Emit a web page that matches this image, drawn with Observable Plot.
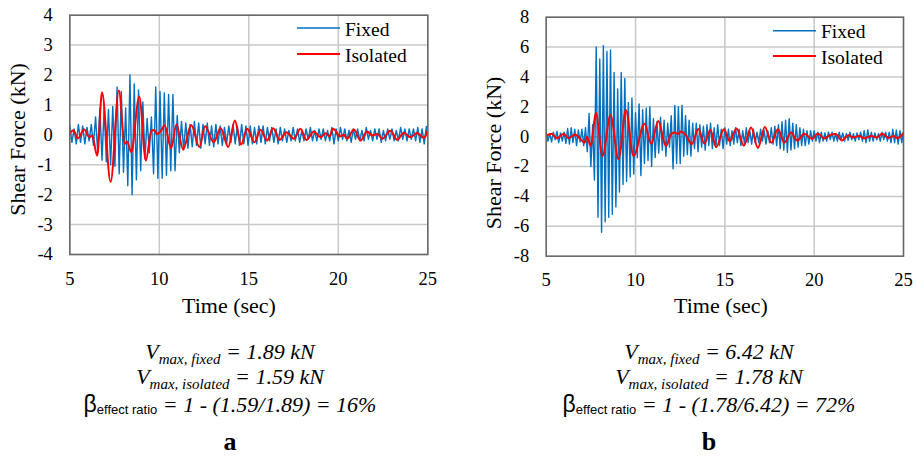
<!DOCTYPE html>
<html>
<head>
<meta charset="utf-8">
<script src="https://cdn.jsdelivr.net/npm/d3@7"></script>
<script src="https://cdn.jsdelivr.net/npm/@observablehq/plot@0.6"></script>
<style>
  html, body { margin: 0; padding: 0; background: #fff; }
  #page { position: relative; width: 917px; height: 456px; background: #fff; overflow: hidden; }
  .panel { position: absolute; top: 0; }
  #ov { position: absolute; left: 0; top: 0; pointer-events: none; }
</style>
</head>
<body>
<div id="page">
  <div id="pa" class="panel" style="left:0px"></div>
  <div id="pb" class="panel" style="left:458px"></div>
  <svg id="ov" width="917" height="456"></svg>
</div>
<script>
// ---------- data ----------
const xTicks = [5, 10, 15, 20, 25];
const yTicksA = [-4, -3, -2, -1, 0, 1, 2, 3, 4];
const yTicksB = [-8, -6, -4, -2, 0, 2, 4, 6, 8];
const seriesNames = ["Fixed", "Isolated"];
const panelLabels = ["a", "b"];
const startTime = 5;

// Panel a — Fixed base (sampled peaks/troughs every dtA seconds from 5 s)
const dtA = 0.12;
const fixedA = [
  0.3, -0.25, 0.2, -0.3, 0.35, -0.25, 0.3, -0.3, 0.25, -0.2,
  0.35, -0.35, 0.6, -0.6, 0.9, -0.85, 0.95, -0.9, 0.85, -1.0,
  0.95, -1.05, 1.6, -1.3, 1.45, -1.25, 0.9, -1.7, 2.0, -2.0,
  1.7, -1.5, 1.5, -1.2, 1.1, -0.8, 0.55, -0.6, 0.6, -1.3,
  1.6, -1.45, 1.45, -1.45, 1.4, -1.35, 1.35, -1.2, 1.35, -1.2,
  0.65, -0.6, 0.45, -0.5, 0.4, -0.45, 0.35, -0.4, 0.45, -0.35,
  0.4, -0.45, 0.35, -0.3, 0.4, -0.35, 0.3, -0.4, 0.35, -0.3,
  0.3, -0.35, 0.25, -0.3, 0.3, -0.25, 0.35, -0.3, 0.3, -0.35,
  0.35, -0.3, 0.3, -0.35, 0.3, -0.3, 0.25, -0.3, 0.3, -0.25,
  0.3, -0.3, 0.25, -0.2, 0.25, -0.25, 0.2, -0.3, 0.25, -0.2,
  0.2, -0.25, 0.15, -0.2, 0.25, -0.2, 0.2, -0.25, 0.15, -0.2,
  0.2, -0.15, 0.25, -0.2, 0.15, -0.2, 0.2, -0.15, 0.2, -0.2,
  0.15, -0.2, 0.25, -0.3, 0.2, -0.2, 0.25, -0.15, 0.2, -0.2,
  0.15, -0.25, 0.2, -0.15, 0.2, -0.2, 0.15, -0.2, 0.25, -0.15,
  0.15, -0.2, 0.2, -0.15, 0.2, -0.25, 0.15, -0.2, 0.2, -0.15,
  0.2, -0.2, 0.15, -0.2, 0.25, -0.15, 0.2, -0.2, 0.2, -0.15,
  0.2, -0.2, 0.25, -0.25, 0.2, -0.3, 0.28, -0.2
];
// Panel a — Isolated (turning points: time, value)
const isoTimeA = [
  5.0, 5.2, 5.45, 5.8, 6.1, 6.25, 6.53, 6.8, 7.28, 7.74,
  8.07, 8.2, 8.43, 8.88, 9.25, 9.55, 9.72, 9.87, 10.05, 10.3,
  10.66, 10.96, 11.33, 11.78, 12.24, 12.56, 13.04, 13.42, 13.85, 14.22,
  14.57, 14.91, 15.32, 15.65, 16.02, 16.36, 16.73, 17.1, 17.51, 17.89,
  18.22, 18.63, 19.0, 19.3, 19.5, 19.71, 20.1, 20.3, 20.49, 20.87,
  21.24, 21.61, 21.9, 22.2, 22.45, 22.91, 23.29, 23.66, 24.03, 24.4,
  24.78, 25.0
];
const isoA = [
  0.05, 0.15, -0.12, 0.18, -0.08, -0.02, -0.7, 1.42, -1.58, 1.48,
  -0.3, -0.22, -0.58, 1.28, -0.86, 0.12, 0.16, 0.03, 0.1, 0.31,
  -0.45, 0.35, -0.49, 0.33, -0.41, 0.29, -0.25, 0.23, -0.41, 0.48,
  -0.32, 0.2, -0.25, 0.17, -0.19, 0.22, -0.17, 0.09, -0.13, 0.2,
  -0.17, 0.11, -0.08, 0.05, -0.05, 0.2, -0.05, 0.0, -0.13, 0.18,
  -0.19, 0.11, -0.02, 0.03, -0.13, 0.14, -0.17, 0.07, -0.08, 0.06,
  -0.1, 0.14
];

// Panel b — Fixed base (sampled every dtB seconds from 5 s)
const dtB = 0.1;
const fixedB = [
  0.3, -0.3, 0.2, -0.35, 0.3, -0.2, 0.35, -0.4, 0.25, -0.3,
  0.3, -0.45, 0.55, -0.5, 0.6, -0.4, 0.5, -0.6, 0.45, -0.35,
  0.5, -0.6, 0.6, -1.0, 1.55, -2.0, 0.8, -2.9, 6.0, -5.4,
  5.2, -6.4, 6.1, -5.7, 5.7, -5.4, 5.8, -5.2, 4.3, -4.7,
  3.2, -3.7, 4.3, -3.2, 3.9, -3.0, 2.3, -2.7, 2.6, -2.5,
  1.6, -1.4, 2.2, -2.6, 1.8, -1.8, 1.9, -1.6, 2.0, -2.0,
  1.2, -1.4, 1.0, -1.1, 1.3, -0.9, 1.1, -1.3, 0.9, -0.7,
  1.4, -2.15, 2.1, -1.8, 2.0, -1.8, 2.1, -1.3, 1.4, -1.2,
  1.1, -1.3, 0.9, -0.8, 0.9, -1.0, 0.8, -0.7, 0.7, -0.9,
  0.8, -0.6, 0.9, -0.8, 0.6, -0.7, 0.8, -0.6, 0.5, -0.8,
  0.6, -0.5, 0.5, -0.6, 0.4, -0.5, 0.6, -0.4, 0.5, -0.6,
  0.4, -0.5, 0.6, -0.4, 0.4, -0.5, 0.5, -0.4, 0.3, -0.4,
  0.5, -0.3, 0.4, -0.5, 0.4, -0.4, 0.6, -0.5, 0.7, -0.6,
  0.8, -0.8, 1.0, -0.9, 1.1, -1.05, 1.2, -0.9, 0.9, -0.8,
  0.8, -0.7, 0.6, -0.6, 0.5, -0.6, 0.4, -0.5, 0.4, -0.3,
  0.4, -0.3, 0.3, -0.4, 0.3, -0.3, 0.25, -0.3, 0.3, -0.2,
  0.3, -0.3, 0.2, -0.3, 0.3, -0.2, 0.25, -0.3, 0.2, -0.25,
  0.3, -0.2, 0.2, -0.3, 0.25, -0.2, 0.3, -0.3, 0.4, -0.4,
  0.45, -0.3, 0.3, -0.3, 0.25, -0.2, 0.2, -0.3, 0.3, -0.2,
  0.3, -0.3, 0.3, -0.4, 0.5, -0.4, 0.45, -0.5, 0.4, -0.4,
  0.3
];
// Panel b — Isolated (turning points: time, value)
const isoTimeB = [
  5.0, 5.3, 5.6, 5.97, 6.25, 6.62, 6.9, 7.15, 7.28, 7.5,
  7.78, 8.15, 8.6, 9.05, 9.46, 9.89, 10.5, 10.88, 11.27, 11.7,
  12.0, 12.18, 12.37, 12.55, 12.83, 13.15, 13.52, 13.85, 14.19, 14.51,
  14.95, 15.27, 15.65, 16.06, 16.47, 16.85, 17.24, 17.6, 17.97, 18.33,
  18.7, 19.05, 19.45, 19.88, 20.2, 20.55, 20.9, 21.2, 21.55, 21.9,
  22.2, 22.5, 22.8, 23.2, 23.5, 23.8, 24.16, 24.45, 24.65, 25.0
];
const isoB = [
  0.05, 0.2, -0.1, 0.2, -0.1, 0.15, -0.15, -0.4, 0.0, -0.6,
  1.6, -1.3, 1.45, -1.5, 1.78, -1.3, 0.86, -0.48, 1.05, -0.62,
  0.18, 0.28, 0.18, 0.35, 0.08, -0.5, 0.52, -0.45, 0.45, -0.7,
  0.5, -0.3, 0.55, -0.6, 0.62, -0.75, 0.65, -0.4, 0.5, -0.4,
  0.28, -0.25, 0.2, -0.15, 0.22, -0.12, 0.12, 0.18, -0.25, 0.1,
  -0.05, 0.05, -0.1, 0.05, -0.05, 0.2, -0.08, 0.05, -0.1, 0.25
];

// ---------- styles ----------
const BLUE = "#0070C0";
const RED = "#FF0000";
const GRID = "#C8C8C8";
const FRAME = "#666666";
const SERIF = "'Liberation Serif', 'Times New Roman', serif";
const SANS = "'Liberation Sans', Arial, sans-serif";

function makePanel(cfg) {
  const fixed = cfg.fixed.map((v, i) => ({t: startTime + i * cfg.dt, v}));
  const iso = cfg.isoT.map((t, i) => ({t, v: cfg.iso[i]}));
  const plot = Plot.plot({
    width: cfg.width,
    height: 300,
    marginLeft: cfg.ml,
    marginRight: cfg.mr,
    marginTop: cfg.mt,
    marginBottom: cfg.mb,
    style: {fontFamily: SERIF, fontSize: "18.5px", color: "#000", background: "transparent", overflow: "visible"},
    x: {domain: [5, 25], ticks: xTicks, tickSize: 0, tickPadding: 17, label: null, tickFormat: d => String(d)},
    y: {domain: cfg.yDomain, ticks: cfg.yTicks, tickSize: 0, tickPadding: 17, label: null, tickFormat: d => String(d)},
    marks: [
      Plot.gridX(xTicks, {stroke: GRID, strokeOpacity: 1, strokeWidth: 1.5}),
      Plot.gridY(cfg.yTicks, {stroke: GRID, strokeOpacity: 1, strokeWidth: 1.5}),
      Plot.line(fixed, {x: "t", y: "v", stroke: BLUE, strokeWidth: 1.4, clip: true}),
      Plot.line(iso, {x: "t", y: "v", stroke: RED, strokeWidth: 2, curve: "monotone-x", clip: true}),
      Plot.frame({stroke: FRAME, strokeWidth: 1.5})
    ]
  });
  const svg = d3.select(plot);
  // force serif on all axis texts
  svg.selectAll("text").style("font-family", SERIF).style("font-size", "18.5px").attr("fill", "#000");
  // legend (inside plot area, top right)
  const lg = svg.append("g");
  const items = [{name: seriesNames[0], color: BLUE, w: 1.4}, {name: seriesNames[1], color: RED, w: 2}];
  items.forEach((it, k) => {
    const y = cfg.legY[k];
    lg.append("line").attr("x1", cfg.legX).attr("x2", cfg.legX + 43).attr("y1", y).attr("y2", y)
      .attr("stroke", it.color).attr("stroke-width", it.w);
    lg.append("text").attr("x", cfg.legX + 48).attr("y", y + 7.5).attr("fill", "#000")
      .attr("text-anchor", "start")
      .style("font-family", SERIF).style("font-size", "19.5px").text(it.name);
  });
  return plot;
}

document.getElementById("pa").appendChild(makePanel({
  width: 458, ml: 69.3, mr: 30.7, mt: 14.7, mb: 46,
  yDomain: [-4, 4], yTicks: yTicksA,
  fixed: fixedA, dt: dtA, isoT: isoTimeA, iso: isoA,
  legX: 297, legY: [28, 54]
}));
document.getElementById("pb").appendChild(makePanel({
  width: 459, ml: 87.7, mr: 14, mt: 16.7, mb: 44.3,
  yDomain: [-8, 8], yTicks: yTicksB,
  fixed: fixedB, dt: dtB, isoT: isoTimeB, iso: isoB,
  legX: 315, legY: [30.7, 56]
}));

// ---------- titles and notes ----------
const ov = d3.select("#ov");
function yTitle(x, y) {
  ov.append("text").attr("transform", `translate(${x},${y}) rotate(-90)`)
    .attr("text-anchor", "middle").style("font-family", SERIF).style("font-size", "22px")
    .attr("fill", "#000").text("Shear Force (kN)");
}
function xTitle(x, y) {
  ov.append("text").attr("x", x).attr("y", y).attr("text-anchor", "middle")
    .style("font-family", SERIF).style("font-size", "22px").attr("fill", "#000").text("Time (sec)");
}
yTitle(25, 139.5);
yTitle(501.3, 153);
xTitle(229, 313);
xTitle(721, 313);

const notes = [
  {cx: 230, fixed: "1.89", iso: "1.59", ratio: "16%", label: panelLabels[0]},
  {cx: 709, fixed: "6.42", iso: "1.78", ratio: "72%", label: panelLabels[1]}
];
notes.forEach(n => {
  const vLine = (y, sub, val) => {
    const t = ov.append("text").attr("x", n.cx).attr("y", y).attr("text-anchor", "middle")
      .style("font-family", SERIF).style("font-style", "italic").style("font-size", "22px").attr("fill", "#000");
    t.append("tspan").text("V");
    t.append("tspan").style("font-size", "15px").attr("dy", 5).text(sub);
    t.append("tspan").attr("dy", -5).text(` = ${val} kN`);
  };
  vLine(359, "max, fixed", n.fixed);
  vLine(384, "max, isolated", n.iso);
  const t3 = ov.append("text").attr("x", n.cx).attr("y", 412).attr("text-anchor", "middle")
    .style("font-family", SERIF).style("font-size", "22px").attr("fill", "#000");
  t3.append("tspan").style("font-family", SANS).style("font-size", "23px").text("β");
  t3.append("tspan").style("font-family", SANS).style("font-size", "13px").attr("dy", 2).text("effect ratio");
  t3.append("tspan").attr("dy", -2).style("font-style", "italic").text(` = 1 - (${n.iso}/${n.fixed}) = ${n.ratio}`);
  ov.append("text").attr("x", n.cx).attr("y", 450).attr("text-anchor", "middle")
    .style("font-family", SERIF).style("font-weight", "bold").style("font-size", "26px").attr("fill", "#000").text(n.label);
});
</script>
</body>
</html>
